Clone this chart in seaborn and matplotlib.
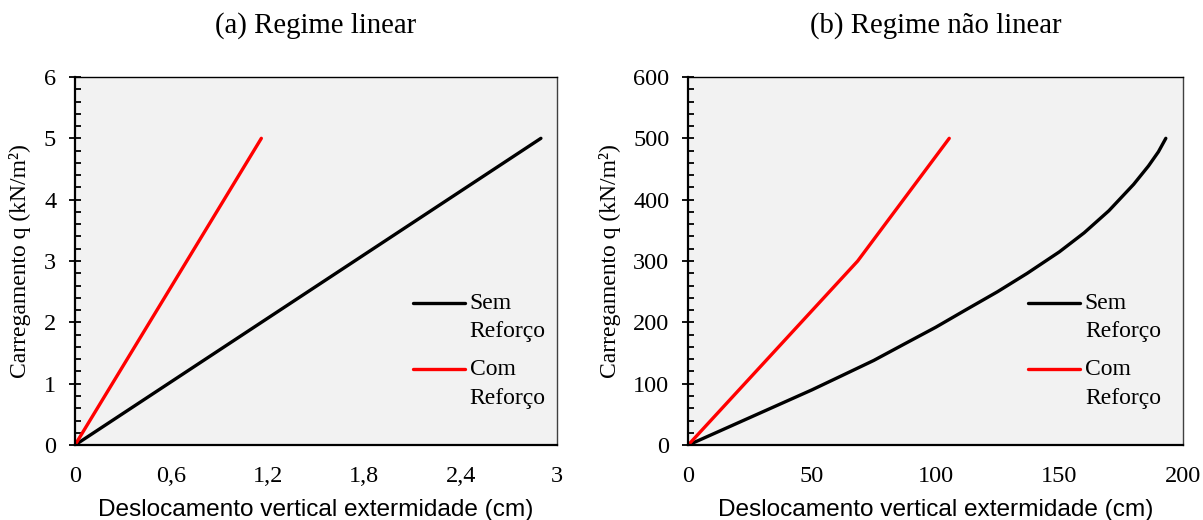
import matplotlib
matplotlib.use("Agg")
import matplotlib.pyplot as plt
import seaborn as sns
import pandas as pd
from matplotlib.ticker import MultipleLocator, FixedLocator

# (a) linear regime
lin_sem_x = [0, 2.9]
lin_sem_y = [0, 5]
lin_com_x = [0, 1.16]
lin_com_y = [0, 5]
lin_xticks = [0, 0.6, 1.2, 1.8, 2.4, 3]
lin_xlabels = ["0", "0,6", "1,2", "1,8", "2,4", "3"]

# (b) nonlinear regime
nl_sem_x = [0, 25, 50, 62, 75, 87, 100, 112, 125, 137, 150, 160, 170, 180, 186, 190, 193]
nl_sem_y = [0, 45, 90, 113, 138, 164, 192, 220, 250, 280, 315, 346, 382, 425, 455, 478, 500]
nl_com_x = [0, 68.5, 105.5]
nl_com_y = [0, 300, 500]
nl_xticks = [0, 50, 100, 150, 200]

labels = ["Sem\nReforço", "Com\nReforço"]
colors = ["#000000", "#ff0000"]

sns.set_theme(style="white")
plt.rcParams["font.family"] = ["Liberation Serif", "DejaVu Serif"]
plt.rcParams["text.color"] = "black"
plt.rcParams["axes.labelcolor"] = "black"
plt.rcParams["xtick.color"] = "black"
plt.rcParams["ytick.color"] = "black"

fig = plt.figure(figsize=(12.03, 5.2), dpi=100)
ax_a = fig.add_axes([0.0623, 0.144, 0.4007, 0.708])
ax_b = fig.add_axes([0.572, 0.144, 0.4115, 0.708])


def draw(ax, series, title, xlim, ylim, xticks, xlabels, ymajor, yminor, leg_x):
    for (xs, ys), lab, col in zip(series, labels, colors):
        df = pd.DataFrame({"x": xs, "y": ys})
        sns.lineplot(data=df, x="x", y="y", ax=ax, color=col, lw=2.4,
                     label=lab, sort=False, estimator=None)
    ax.set_facecolor("#f2f2f2")
    ax.set_xlim(*xlim)
    ax.set_ylim(*ylim)
    ax.xaxis.set_major_locator(FixedLocator(xticks))
    ax.set_xticklabels(xlabels)
    ax.yaxis.set_major_locator(MultipleLocator(ymajor))
    ax.yaxis.set_minor_locator(MultipleLocator(yminor))
    ax.tick_params(axis="x", length=0, pad=15, labelsize=17.5)
    ax.tick_params(axis="y", which="major", direction="inout", length=9,
                   width=1.3, pad=9, labelsize=17.5, left=True)
    ax.tick_params(axis="y", which="minor", direction="in", length=4.5,
                   width=1.3, left=True)
    for s in ["left", "bottom"]:
        ax.spines[s].set_color("black")
        ax.spines[s].set_linewidth(1.6)
    ax.spines["top"].set_color("black")
    ax.spines["top"].set_linewidth(1.0)
    ax.spines["right"].set_color("#404040")
    ax.spines["right"].set_linewidth(1.0)
    ax.set_title(title, fontsize=20.7, pad=32)
    ax.set_ylabel("Carregamento q (kN/m²)", fontsize=17, labelpad=9)
    ax.set_xlabel("Deslocamento vertical extermidade (cm)", fontsize=17.6,
                  family=["Liberation Sans", "DejaVu Sans"], labelpad=9)
    leg = ax.legend(loc="upper left", bbox_to_anchor=(leg_x, 0.414),
                    frameon=False, fontsize=17, handlelength=2.2,
                    handletextpad=0.2, borderpad=0, borderaxespad=0,
                    labelspacing=0.74, handleheight=1.2)
    for t in leg.get_texts():
        t.set_linespacing(1.45)
    for col in leg._legend_handle_box.get_children():
        for hp in col.get_children():
            hp.align = "top"
    for line in leg.get_lines():
        line.set_linewidth(2.4)


draw(ax_a, [(lin_sem_x, lin_sem_y), (lin_com_x, lin_com_y)],
     "(a) Regime linear", (0, 3), (0, 6), lin_xticks, lin_xlabels, 1, 0.2, 0.701)
draw(ax_b, [(nl_sem_x, nl_sem_y), (nl_com_x, nl_com_y)],
     "(b) Regime não linear", (0, 200), (0, 600), nl_xticks,
     [str(v) for v in nl_xticks], 100, 20, 0.687)

fig.savefig("out.png", dpi=100)
